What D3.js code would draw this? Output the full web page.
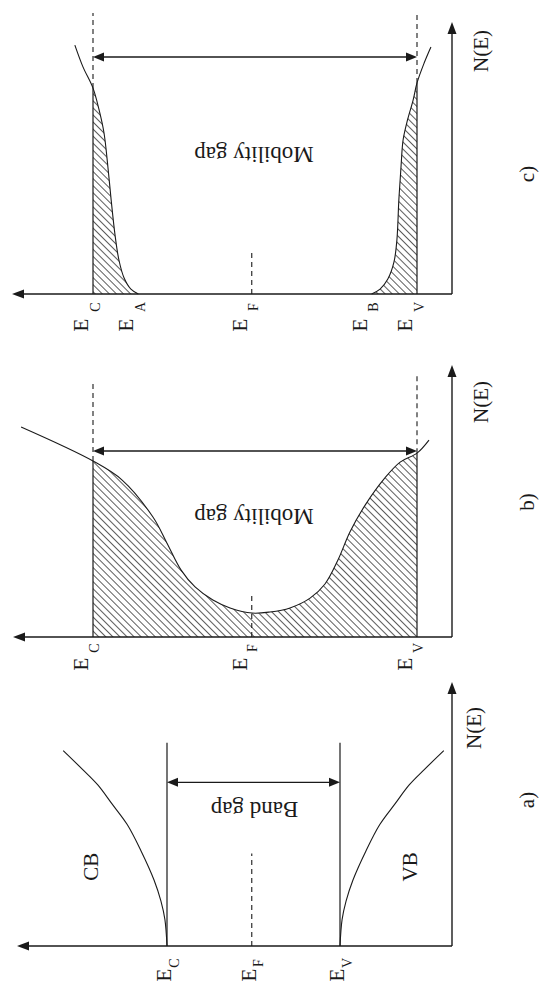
<!DOCTYPE html>
<html>
<head>
<meta charset="utf-8">
<script src="https://cdn.jsdelivr.net/npm/d3@7"></script>
<style>
  html, body { margin: 0; padding: 0; background: #fff; }
  svg { display: block; }
</style>
</head>
<body>
<svg id="fig" width="545" height="992"></svg>
<script>
// ---- Energy levels (valence edge = 0, conduction edge = 1) ----
const levelEC = 1.0;
const levelEV = 0.0;
const levelEF = 0.51;
const levelEA = 0.86;
const levelEB = 0.14;

// ---- a) crystalline: parabolic band edges ----
const cbEnergy  = [1.0, 1.012, 1.035, 1.075, 1.15, 1.23, 1.32, 1.40, 1.49, 1.60];
const cbDensity = [0.0, 0.10, 0.17, 0.25, 0.36, 0.46, 0.54, 0.61, 0.67, 0.74];
const vbEnergy  = [0.0, -0.012, -0.035, -0.075, -0.15, -0.23, -0.32, -0.40, -0.49, -0.60];
const vbDensity = [0.0, 0.10, 0.17, 0.25, 0.36, 0.46, 0.54, 0.61, 0.67, 0.74];

// ---- b) density of states with deep tails filling the gap ----
const bEnergy  = [1.222, 1.0, 0.910, 0.815, 0.772, 0.728, 0.685, 0.630, 0.577, 0.509,
                  0.454, 0.392, 0.330, 0.284, 0.244, 0.207, 0.160, 0.099, 0.052, 0.0, -0.037];
const bDensity = [0.772, 0.647, 0.577, 0.441, 0.346, 0.246, 0.184, 0.136, 0.107, 0.088,
                  0.092, 0.107, 0.143, 0.195, 0.283, 0.386, 0.485, 0.585, 0.643, 0.676, 0.724];

// ---- c) narrow band tails ending at E_A and E_B ----
const cTailCEnergy  = [1.056, 1.031, 1.0, 0.981, 0.966, 0.954, 0.944, 0.932, 0.920, 0.904, 0.883, 0.86];
const cTailCDensity = [0.915, 0.835, 0.757, 0.676, 0.592, 0.467, 0.346, 0.217, 0.125, 0.059, 0.018, 0.0];
const cTailVEnergy  = [-0.043, -0.022, 0.0, 0.012, 0.031, 0.043, 0.049, 0.056, 0.062, 0.071, 0.090, 0.114, 0.14];
const cTailVDensity = [0.908, 0.849, 0.776, 0.713, 0.632, 0.566, 0.474, 0.346, 0.199, 0.118, 0.055, 0.018, 0.0];

// ---- tick labels ----
const ticksAB = [
  { level: levelEC, sub: "C" },
  { level: levelEF, sub: "F" },
  { level: levelEV, sub: "V" }
];
const ticksC = [
  { level: levelEC, sub: "C" },
  { level: levelEA, sub: "A" },
  { level: levelEF, sub: "F" },
  { level: levelEB, sub: "B" },
  { level: levelEV, sub: "V" }
];
const axisTitle = "N(E)";
const panelTags = ["a)", "b)", "c)"];
const bandNames = ["CB", "VB"];
const gapNames = ["Band gap", "Mobility gap"];

// ---------------------------------------------------------------
const svg = d3.select("#fig");
const ink = "#1a1a1a";
const serif = "'Liberation Serif','Times New Roman',serif";

const defs = svg.append("defs");
defs.append("pattern")
  .attr("id", "hatch")
  .attr("patternUnits", "userSpaceOnUse")
  .attr("width", 10).attr("height", 5)
  .attr("patternTransform", "rotate(45)")
  .append("line")
  .attr("x1", 0).attr("y1", 0.5).attr("x2", 10).attr("y2", 0.5)
  .attr("stroke", "#333").attr("stroke-width", 0.8);

function head(g, tx, ty, dir, len, half) {
  let pts;
  if (dir === "left")  pts = [[tx, ty], [tx + len, ty - half], [tx + len, ty + half]];
  if (dir === "right") pts = [[tx, ty], [tx - len, ty - half], [tx - len, ty + half]];
  if (dir === "up")    pts = [[tx, ty], [tx - half, ty + len], [tx + half, ty + len]];
  g.append("path").attr("d", "M" + pts.join("L") + "Z").attr("fill", ink);
}

function text(g, x, y, str, size, angle) {
  g.append("text")
    .attr("transform", `translate(${x},${y}) rotate(${angle})`)
    .attr("text-anchor", "middle")
    .attr("dy", "0.33em")
    .attr("font-family", serif)
    .attr("font-size", size)
    .attr("fill", ink)
    .text(str);
}

function vline(g, x, y1, y2, dashed, w) {
  g.append("line")
    .attr("x1", x).attr("x2", x).attr("y1", y1).attr("y2", y2)
    .attr("stroke", ink).attr("stroke-width", w || 1.1)
    .attr("stroke-dasharray", dashed ? "5,4" : null);
}

function frame(g, L, x, y, tag, titleX) {
  // energy axis (pointing towards higher energy, to the left)
  g.append("line").attr("x1", L.leftX + 6).attr("x2", L.axisX).attr("y1", y(0)).attr("y2", y(0))
    .attr("stroke", ink).attr("stroke-width", 1.4);
  head(g, L.leftX, y(0), "left", 12, 4.5);
  // density axis
  g.append("line").attr("x1", L.axisX).attr("x2", L.axisX).attr("y1", y(0)).attr("y2", L.topY + 6)
    .attr("stroke", ink).attr("stroke-width", 1.4);
  head(g, L.axisX, L.topY, "up", 12, 4.5);
  text(g, titleX, L.titleY, axisTitle, 21, -90);
  text(g, 527, L.tagY, tag, 21, -90);
}

function tickLabels(g, ticks, x, L) {
  ticks.forEach(t => {
    const cx = x(t.level) + L.labelDx;
    text(g, cx, L.labelY, "E", 21, -90);
    text(g, cx + L.subDx, L.subY, t.sub, 14, -90);
  });
}

function gapArrow(g, x, yPix) {
  const x1 = x(levelEC), x2 = x(levelEV);
  g.append("line").attr("x1", x1 + 8).attr("x2", x2 - 8).attr("y1", yPix).attr("y2", yPix)
    .attr("stroke", ink).attr("stroke-width", 1.3);
  head(g, x1, yPix, "left", 11, 4.5);
  head(g, x2, yPix, "right", 11, 4.5);
}

// ================= Panel a =================
{
  const L = { axisY: 946, topY: 682, leftX: 17, axisX: 452, titleY: 728, tagY: 800,
              labelY: 975, subY: 963, labelDx: -3, subDx: 10 };
  const x = d3.scaleLinear().domain([levelEV, levelEC]).range([340, 167]);
  const y = d3.scaleLinear().domain([0, 1]).range([L.axisY, L.topY]);
  const g = svg.append("g");
  frame(g, L, x, y, panelTags[0], 474);

  const line = d3.line().x(d => x(d[0])).y(d => y(d[1])).curve(d3.curveCatmullRom.alpha(0.5));
  g.append("path").datum(d3.zip(cbEnergy, cbDensity)).attr("d", line)
    .attr("fill", "none").attr("stroke", ink).attr("stroke-width", 1.1);
  g.append("path").datum(d3.zip(vbEnergy, vbDensity)).attr("d", line)
    .attr("fill", "none").attr("stroke", ink).attr("stroke-width", 1.1);

  vline(g, x(levelEC), y(0), y(0.77), false, 1.2);
  vline(g, x(levelEV), y(0), y(0.77), false, 1.2);
  vline(g, x(levelEF), y(0), y(0.35), true, 1.1);
  gapArrow(g, x, y(0.62));

  text(g, x((levelEC + levelEV) / 2) + 1, 810, gapNames[0], 23, 180);
  text(g, x(1.44), y(0.30), bandNames[0], 21, -90);
  text(g, x(-0.405), y(0.30), bandNames[1], 21, -90);
  tickLabels(g, ticksAB, x, L);
}

// ============ shared drawing for hatched panels ============
function hatchedPanel(L, curves, tag, titleX, ticks, gapY, efTop, gapTextY) {
  const x = d3.scaleLinear().domain([levelEV, levelEC]).range([417, 93]);
  const y = d3.scaleLinear().domain([0, 1]).range([L.axisY, L.topY]);
  const g = svg.append("g");
  const clipId = "clip" + tag.replace(")", "");
  defs.append("clipPath").attr("id", clipId).append("rect")
    .attr("x", x(levelEC)).attr("y", 0)
    .attr("width", x(levelEV) - x(levelEC)).attr("height", y(0));

  const curve = d3.curveCatmullRom.alpha(0.5);
  const line = d3.line().x(d => x(d[0])).y(d => y(d[1])).curve(curve);
  const area = d3.area().x(d => x(d[0])).y0(y(0)).y1(d => y(d[1])).curve(curve);

  curves.forEach(c => {
    g.append("path").datum(c).attr("d", area)
      .attr("fill", "url(#hatch)").attr("stroke", "none")
      .attr("clip-path", `url(#${clipId})`);
  });
  vline(g, x(levelEF), y(0), efTop, true, 1.1);

  curves.forEach(c => {
    g.append("path").datum(c).attr("d", line)
      .attr("fill", "none").attr("stroke", ink).attr("stroke-width", 1.1);
  });

  // band-edge lines: solid below the curve, dashed above it
  const all = curves.flat();
  const atC = all.find(d => d[0] === levelEC)[1];
  const atV = all.find(d => d[0] === levelEV)[1];
  vline(g, x(levelEC), y(0), y(atC), false, 1.2);
  vline(g, x(levelEV), y(0), y(atV), false, 1.2);
  vline(g, x(levelEC), y(atC), L.dashTopC, true, 1.1);
  vline(g, x(levelEV), y(atV), L.dashTopV, true, 1.1);

  frame(g, L, x, y, tag, titleX);
  gapArrow(g, x, gapY);
  text(g, x((levelEC + levelEV) / 2) - 1, gapTextY, gapNames[1], 23, 180);
  tickLabels(g, ticks, x, L);
}

// ================= Panel b =================
hatchedPanel(
  { axisY: 637, topY: 365, leftX: 13, axisX: 452, titleY: 402, tagY: 502,
    labelY: 664, subY: 648, labelDx: -12, subDx: 13, dashTopC: 383, dashTopV: 373 },
  [d3.zip(bEnergy, bDensity)],
  panelTags[1], 481, ticksAB, 451, 593, 517
);

// ================= Panel c =================
hatchedPanel(
  { axisY: 294, topY: 22, leftX: 12, axisX: 452, titleY: 51, tagY: 174,
    labelY: 325, subY: 307, labelDx: -12, subDx: 14, dashTopC: 13, dashTopV: 13 },
  [d3.zip(cTailCEnergy, cTailCDensity), d3.zip(cTailVEnergy, cTailVDensity)],
  panelTags[2], 481, ticksC, 57, 252, 155
);
</script>
</body>
</html>
